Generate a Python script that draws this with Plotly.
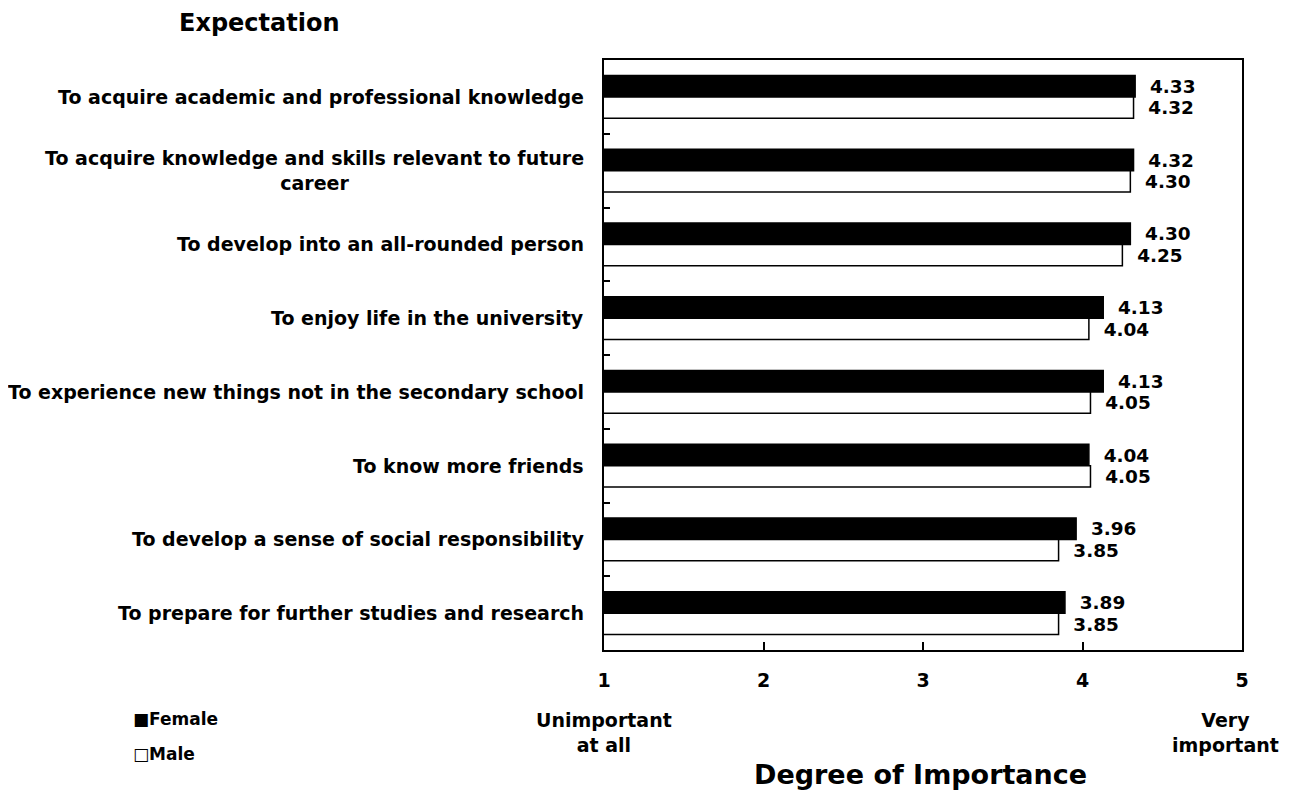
import plotly.graph_objects as go

categories = [
    "To acquire academic and professional knowledge",
    "To acquire knowledge and skills relevant to future<br>career",
    "To develop into an all-rounded person",
    "To enjoy life in the university",
    "To experience new things not in the secondary school",
    "To know more friends",
    "To develop a sense of social responsibility",
    "To prepare for further studies and research",
]
female = [4.33, 4.32, 4.30, 4.13, 4.13, 4.04, 3.96, 3.89]
male = [4.32, 4.30, 4.25, 4.04, 4.05, 4.05, 3.85, 3.85]
x_ticks = [1, 2, 3, 4, 5]

FONT = "DejaVu Sans"
O = 8  # page body margin
W, H = 1299 - O, 791 - O
L, R, T, B = 604, 1242, 60, 650  # plot area in screen pixels

def px(x):
    return (x - L) / (R - L)

def py(y):
    return (B - y) / (B - T)

fig = go.Figure()
fig.add_trace(go.Bar(
    y=categories, x=female, orientation="h", name="Female",
    marker=dict(color="black", line=dict(color="black", width=1.5)),
    texttemplate="\u00a0\u00a0<b>%{x:.2f}</b>", textposition="outside",
    textfont=dict(family=FONT, size=19, color="black"),
    showlegend=False,
))
fig.add_trace(go.Bar(
    y=categories, x=male, orientation="h", name="Male",
    marker=dict(color="white", line=dict(color="black", width=1.5)),
    texttemplate="\u00a0\u00a0<b>%{x:.2f}</b>", textposition="outside",
    textfont=dict(family=FONT, size=19, color="black"),
    showlegend=False,
))

annotations = []
for c in categories:
    annotations.append(dict(
        x=0, xref="paper", y=c, yref="y", xanchor="right", yanchor="middle",
        xshift=-18, text="<b>%s</b>" % c, showarrow=False, align="center",
        font=dict(family=FONT, size=19, color="black"),
    ))

def ann(text, x, y, size, xanchor="center", align="center"):
    annotations.append(dict(
        x=px(x), y=py(y), xref="paper", yref="paper", text=text,
        xanchor=xanchor, yanchor="middle", showarrow=False, align=align,
        font=dict(family=FONT, size=size, color="black"),
    ))

ann("<b>Expectation</b>", 177, 23, 24, xanchor="left")
ann("<b>Unimportant<br>at all</b>", 604, 732, 19)
ann("<b>Very<br>important</b>", 1225, 733, 19)
ann("<b>Degree of Importance</b>", 920, 774, 27)
ann("<b>\u25a0Female</b>", 131, 719, 17, xanchor="left")
ann("<b>\u25a1Male</b>", 131, 754, 17, xanchor="left")

fig.update_layout(
    width=W, height=H,
    margin=dict(l=L - O, r=W - (R - O), t=T - O, b=H - (B - O)),
    paper_bgcolor="white", plot_bgcolor="white",
    barmode="group", bargap=0.42, bargroupgap=0,
    font=dict(family=FONT, color="black"),
    annotations=annotations,
    xaxis=dict(
        range=[1, 5], tickvals=x_ticks,
        ticktext=["<b>%d</b>" % t for t in x_ticks],
        tickfont=dict(family=FONT, size=19, color="black"),
        ticks="inside", ticklen=8, tickwidth=2, tickcolor="black",
        showline=True, linecolor="black", linewidth=2, mirror=True,
        showgrid=False, zeroline=False, ticklabelstandoff=12,
    ),
    yaxis=dict(
        autorange="reversed", showticklabels=False,
        ticks="inside", ticklen=6, tickwidth=2, tickcolor="black",
        tickson="boundaries",
        showline=True, linecolor="black", linewidth=2, mirror=True,
        showgrid=False, zeroline=False,
    ),
)

fig.write_html("out.html")
